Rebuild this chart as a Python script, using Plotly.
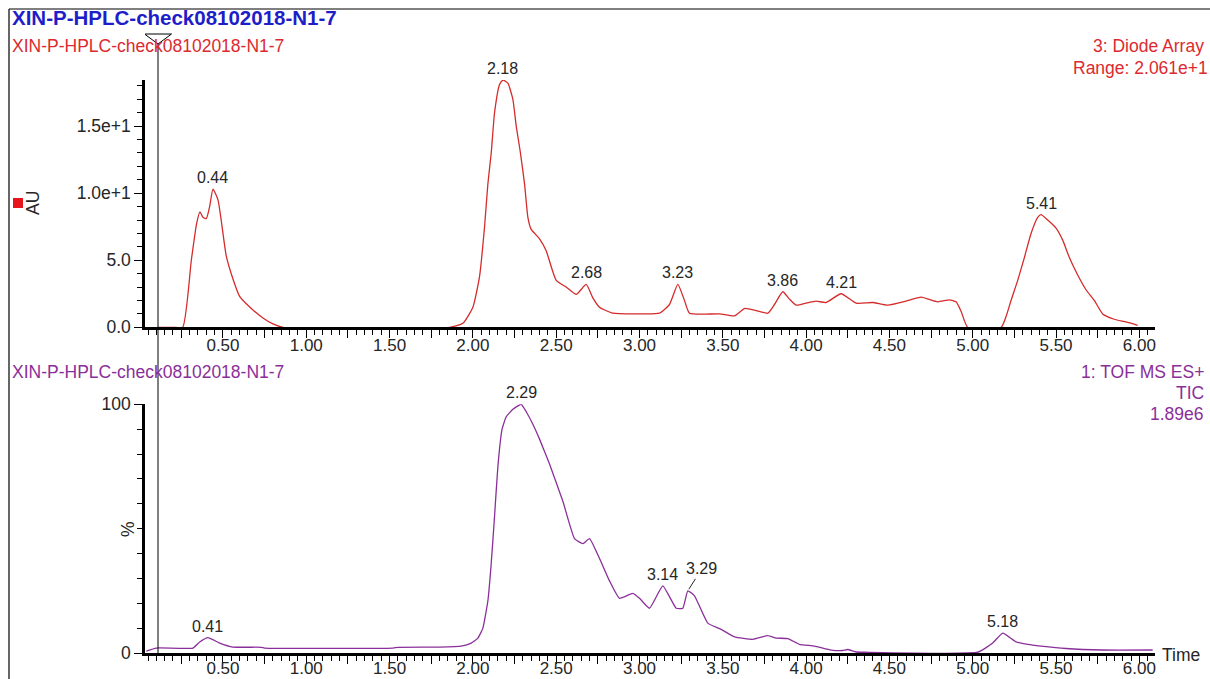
import plotly.graph_objects as go

# ---- Diode array trace (AU) ----
dad_time = [0.11, 0.20, 0.258, 0.31, 0.342, 0.362, 0.38, 0.40, 0.42, 0.44, 0.47, 0.52,
            0.56, 0.60, 0.67, 0.74, 0.80, 0.86, 1.86, 1.94, 2.00, 2.04, 2.07, 2.09,
            2.11, 2.13, 2.16, 2.18, 2.21, 2.24, 2.26, 2.283, 2.31, 2.33, 2.35, 2.40,
            2.44, 2.50, 2.56, 2.62, 2.68, 2.72, 2.76, 2.84, 3.00, 3.12, 3.18, 3.23,
            3.27, 3.30, 3.48, 3.57, 3.63, 3.70, 3.77, 3.81, 3.86, 3.90, 3.94, 4.00,
            4.06, 4.12, 4.21, 4.30, 4.40, 4.49, 4.60, 4.69, 4.79, 4.86, 4.90, 4.93,
            4.97, 5.17, 5.20, 5.23, 5.27, 5.31, 5.35, 5.39, 5.41, 5.45, 5.50, 5.54,
            5.58, 5.63, 5.68, 5.73, 5.78, 5.85, 5.92, 5.99]
dad_au = [0.0, 0.0, 0.0, 5.0, 7.75, 8.6, 8.2, 8.1, 9.0, 10.3, 9.5, 5.3,
          3.6, 2.3, 1.4, 0.7, 0.25, 0.0, 0.0, 0.3, 1.5, 3.8, 7.5, 10.7,
          13.0, 16.0, 18.1, 18.44, 18.2, 17.0, 15.0, 13.2, 10.7, 8.2, 7.3, 6.6,
          5.7, 3.5, 3.0, 2.45, 3.2, 2.2, 1.5, 1.05, 1.0, 1.05, 1.7, 3.2,
          2.0, 1.05, 1.0, 0.85, 1.4, 1.25, 1.05, 1.7, 2.65, 2.1, 1.65, 1.8,
          1.95, 1.85, 2.5, 1.8, 1.85, 1.65, 1.95, 2.25, 1.9, 2.05, 1.9, 1.2,
          0.0, 0.0, 0.8, 2.0, 3.5, 5.2, 7.0, 8.2, 8.4, 8.0, 7.4, 6.5,
          5.2, 3.9, 2.8, 2.0, 1.0, 0.6, 0.4, 0.15]

# ---- TOF MS ES+ total ion current (%) ----
tic_time = [0.04, 0.10, 0.32, 0.36, 0.41, 0.48, 0.56, 0.73, 0.75, 1.52, 1.55, 1.80,
            1.93, 1.99, 2.03, 2.06, 2.09, 2.11, 2.13, 2.15, 2.175, 2.20, 2.24, 2.29,
            2.32, 2.36, 2.40, 2.46, 2.54, 2.61, 2.66, 2.70, 2.76, 2.82, 2.88, 2.96,
            3.00, 3.06, 3.14, 3.22, 3.26, 3.29, 3.33, 3.41, 3.49, 3.57, 3.68, 3.77,
            3.82, 3.89, 3.96, 4.05, 4.15, 4.22, 4.25, 4.30, 4.35, 5.03, 5.12, 5.18,
            5.26, 5.33, 5.41, 5.56, 5.78, 6.08]
tic_pct = [0.8, 2.0, 2.0, 4.4, 6.2, 4.0, 2.4, 2.3, 2.0, 2.0, 2.3, 2.4,
           2.8, 4.0, 6.0, 10.0, 21.0, 36.0, 55.0, 75.0, 90.0, 95.0, 98.0, 100.0,
           97.0, 92.0, 86.0, 76.0, 61.0, 46.0, 44.0, 46.0, 38.0, 29.0, 22.0, 24.0,
           22.0, 18.0, 27.0, 18.0, 18.0, 25.0, 23.0, 12.0, 9.5, 6.5, 5.5, 7.0,
           6.0, 5.8, 3.5, 2.8, 1.2, 1.0, 1.4, 0.4, 0.3, 0.3, 4.0, 8.0,
           4.5, 3.5, 2.8, 1.8, 1.2, 1.2]

# ---- peak labels ----
dad_peaks = ["0.44", "2.18", "2.68", "3.23", "3.86", "4.21", "5.41"]
tic_peaks = ["0.41", "2.29", "3.14", "5.18"]
tic_peak_offset = "3.29"

x_major = [0.25 * i for i in range(1, 25)]
x_labels = [f"{v:.2f}" if abs(v * 2 - round(v * 2)) < 1e-9 else "" for v in x_major]
dad_ticks = [0, 5, 10, 15]
dad_ticktext = ["0.0", "5.0", "1.0e+1", "1.5e+1"]
tic_ticks = [0, 100]
tic_ticktext = ["0", "100"]

FONT = "Liberation Sans, Arial, sans-serif"
RED = "#d42b2b"
RED_TXT = "#dc2a2f"
PURPLE = "#8a2f9a"
BLUE = "#1e1ec8"
INK = "#262626"

W, H = 1210, 679
ML, MR, MT, MB = 145, 55, 80, 26
PW, PH = W - ML - MR, H - MT - MB


def px(xp):
    return (xp - ML) / PW


def py(yp):
    return (H - MB - yp) / PH


X_RANGE = [0.032, 6.094]

fig = go.Figure()
fig.add_trace(go.Scatter(x=dad_time, y=dad_au, mode="lines",
                         line=dict(color=RED, width=1.3, shape="spline", smoothing=0.5),
                         xaxis="x", yaxis="y", hoverinfo="skip", showlegend=False))
fig.add_trace(go.Scatter(x=tic_time, y=tic_pct, mode="lines",
                         line=dict(color=PURPLE, width=1.3, shape="spline", smoothing=0.4),
                         xaxis="x2", yaxis="y2", hoverinfo="skip", showlegend=False))


def time_axis(standoff, anchor):
    return dict(
        domain=[0, 1], anchor=anchor,
        range=X_RANGE, showline=True, linecolor="black", linewidth=2.5,
        showgrid=False, zeroline=False, ticks="outside", ticklen=8, tickwidth=1.3,
        tickcolor="black", tickmode="array", tickvals=x_major, ticktext=x_labels,
        tickfont=dict(family=FONT, size=17, color=INK), automargin=False,
        ticklabelstandoff=standoff,
        minor=dict(ticks="outside", ticklen=5, tickwidth=1.2, tickcolor="black",
                   dtick=0.05, tick0=0, showgrid=False),
    )


fig.update_layout(
    width=W, height=H,
    margin=dict(l=ML, r=MR, t=MT, b=MB, pad=0),
    paper_bgcolor="white", plot_bgcolor="white",
    xaxis=time_axis(-7, "y"),
    xaxis2=time_axis(-10, "y2"),
    yaxis=dict(domain=[py(327.3), 1.0], range=[0, 18.44], anchor="x",
               showline=True, linecolor="black", linewidth=2.5, showgrid=False,
               zeroline=False, ticks="outside", ticklen=8, tickwidth=1.3,
               tickcolor="black", tickmode="array", tickvals=dad_ticks,
               ticktext=dad_ticktext, automargin=False,
               tickfont=dict(family=FONT, size=17.5, color=INK),
               minor=dict(ticks="outside", ticklen=5, tickwidth=1.2,
                          tickcolor="black", dtick=1, tick0=0, showgrid=False)),
    yaxis2=dict(domain=[0, py(404.3)], range=[0, 100], anchor="x2",
                showline=True, linecolor="black", linewidth=2.5, showgrid=False,
                zeroline=False, ticks="outside", ticklen=8, tickwidth=1.3,
                tickcolor="black", tickmode="array", tickvals=tic_ticks,
                ticktext=tic_ticktext, automargin=False,
                tickfont=dict(family=FONT, size=17.5, color=INK),
                minor=dict(ticks="outside", ticklen=5, tickwidth=1.2,
                           tickcolor="black", dtick=10, tick0=0, showgrid=False)),
)

annotations = []


def peak_value(times, values, label):
    t = float(label)
    best = min(range(len(times)), key=lambda i: abs(times[i] - t))
    return times[best], values[best]


for lab in dad_peaks:
    t, v = peak_value(dad_time, dad_au, lab)
    annotations.append(dict(x=float(lab), y=v, xref="x", yref="y", text=lab,
                            showarrow=False, yanchor="bottom", yshift=1,
                            font=dict(family=FONT, size=16, color=INK)))
for lab in tic_peaks:
    t, v = peak_value(tic_time, tic_pct, lab)
    annotations.append(dict(x=float(lab), y=v, xref="x2", yref="y2", text=lab,
                            showarrow=False, yanchor="bottom", yshift=1,
                            font=dict(family=FONT, size=16, color=INK)))
t, v = peak_value(tic_time, tic_pct, tic_peak_offset)
annotations.append(dict(x=float(tic_peak_offset), y=v, xref="x2", yref="y2",
                        text=tic_peak_offset, showarrow=True, arrowhead=0,
                        arrowwidth=1, arrowcolor=INK, ax=14, ay=-22,
                        standoff=2, font=dict(family=FONT, size=16, color=INK)))


def paper_text(text, xp, yp, color, size, xanchor="left", bold=False, angle=0):
    if bold:
        text = f"<b>{text}</b>"
    annotations.append(dict(x=px(xp), y=py(yp), xref="paper", yref="paper",
                            text=text, showarrow=False, xanchor=xanchor,
                            yanchor="middle", textangle=angle,
                            font=dict(family=FONT, size=size, color=color)))


sample = "XIN-P-HPLC-check08102018-N1-7"
paper_text(sample, 10, 18, BLUE, 20.5, bold=True)
paper_text(sample, 10, 46, RED_TXT, 17.5)
paper_text("3: Diode Array", 1206, 46, RED_TXT, 17.5, xanchor="right")
paper_text("Range: 2.061e+1", 1210, 68, RED_TXT, 17.5, xanchor="right")
paper_text(sample, 10, 372, PURPLE, 17.5)
paper_text("1: TOF MS ES+", 1206, 372, PURPLE, 17.5, xanchor="right")
paper_text("TIC", 1206, 393, PURPLE, 17.5, xanchor="right")
paper_text("1.89e6", 1206, 414, PURPLE, 17.5, xanchor="right")
paper_text("AU", 33, 203, INK, 17.5, xanchor="center", angle=-90)
paper_text("%", 128, 529, INK, 17.5, xanchor="center", angle=-90)
paper_text("Time", 1160, 655, INK, 17.5)

fig.update_layout(annotations=annotations)

shapes = [
    # frame edges
    dict(type="line", xref="paper", yref="paper", x0=px(9), x1=px(1210),
         y0=py(9), y1=py(9), line=dict(color="black", width=1.2)),
    dict(type="line", xref="paper", yref="paper", x0=px(9), x1=px(9),
         y0=py(9), y1=py(679), line=dict(color="black", width=1.2)),
    # time cursor
    dict(type="line", xref="x", yref="paper", x0=0.11, x1=0.11,
         y0=py(44), y1=py(653), line=dict(color="black", width=1)),
    dict(type="path", xref="x", yref="paper", xsizemode="pixel",
         ysizemode="pixel", xanchor=0.11, yanchor=py(44),
         path="M -13.5 10 L 13.5 10 L 0 0 Z",
         line=dict(color="black", width=1), fillcolor="rgba(0,0,0,0)"),
    # channel marker
    dict(type="rect", xref="paper", yref="paper", xsizemode="pixel",
         ysizemode="pixel", xanchor=px(18), yanchor=py(203),
         x0=-5, x1=5, y0=-5, y1=5, line=dict(width=0), fillcolor="#e8141c"),
]
fig.update_layout(shapes=shapes)

fig.write_html("out.html")
